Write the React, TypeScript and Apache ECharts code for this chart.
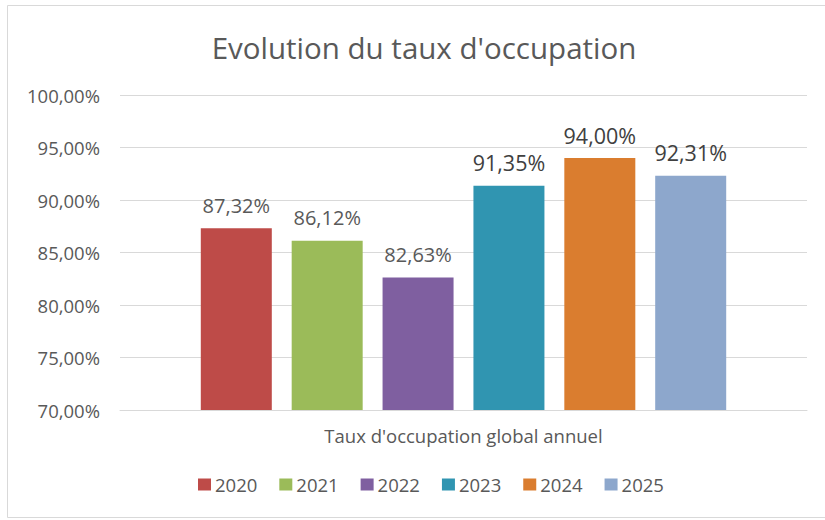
import React, { useEffect, useRef } from "react";
import * as echarts from "echarts";

const categories = ["Taux d'occupation global annuel"];
const years = ["2020", "2021", "2022", "2023", "2024", "2025"];
const values = [87.32, 86.12, 82.63, 91.35, 94.0, 92.31];
const colors = ["#BE4B48", "#9BBB59", "#7F5FA0", "#3095B1", "#DA7D2F", "#8DA7CC"];
const yTicks = [70, 75, 80, 85, 90, 95, 100];

const FONT = "'Open Sans', sans-serif";

const fmt = (v: number) => v.toFixed(2).replace(".", ",") + "%";

export default function App() {
  const ref = useRef<HTMLDivElement>(null);
  useEffect(() => {
    if (!ref.current) return;
    const chart = echarts.init(ref.current, undefined, { renderer: "svg" });
    chart.setOption({
      animation: false,
      backgroundColor: "#ffffff",
      textStyle: { fontFamily: FONT },
      title: {
        text: "Evolution du taux d'occupation",
        left: 419,
        textAlign: "center",
        top: 27,
        textStyle: { fontFamily: FONT, fontSize: 29.5, fontWeight: "normal", color: "#595959" },
      },
      graphic: [
        {
          type: "rect",
          shape: { x: 7.5, y: 5.5, width: 830, height: 512 },
          style: { fill: "none", stroke: "#D9D9D9", lineWidth: 1 },
          silent: true,
        },
      ],
      grid: { left: 120, right: 18, top: 95, bottom: 110 },
      legend: {
        data: years,
        bottom: 21,
        left: 193,
        icon: "rect",
        itemWidth: 13,
        itemHeight: 12,
        itemGap: 22,
        textStyle: { fontFamily: FONT, fontSize: 18.5, color: "#595959", padding: [0, 0, 0, -1] },
      },
      xAxis: {
        type: "category",
        data: categories,
        axisLine: { show: true, lineStyle: { color: "#D9D9D9" } },
        axisTick: { show: false },
        axisLabel: { fontFamily: FONT, fontSize: 18.5, color: "#595959", margin: 16 },
      },
      yAxis: {
        type: "value",
        min: yTicks[0],
        max: yTicks[yTicks.length - 1],
        interval: 5,
        axisLine: { show: false },
        axisTick: { show: false },
        splitLine: { lineStyle: { color: "#D9D9D9" } },
        axisLabel: {
          fontFamily: FONT,
          fontSize: 18.5,
          color: "#595959",
          margin: 20,
          formatter: (v: number) => fmt(v),
        },
      },
      series: years.map((y, i) => ({
        name: y,
        type: "bar",
        data: [values[i]],
        barWidth: 71,
        barGap: "28%",
        itemStyle: { color: colors[i] },
        label: {
          show: true,
          position: "top",
          distance: i < 3 ? 13 : 12,
          fontFamily: FONT,
          fontSize: i < 3 ? 20 : 21.5,
          color: i < 3 ? "#595959" : "#404040",
          formatter: (p: any) => fmt(p.value),
        },
      })),
    });
    return () => chart.dispose();
  }, []);
  return (
    <div
      ref={ref}
      style={{ position: "absolute", left: 0, top: 0, width: 825, height: 520 }}
    />
  );
}
